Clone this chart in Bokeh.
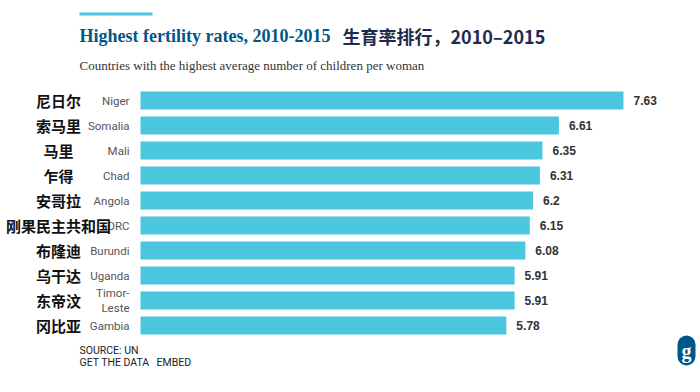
from bokeh.plotting import figure
from bokeh.models import Range1d, Label, BoxAnnotation, ColumnDataSource
from bokeh.core.properties import value
from bokeh.embed import file_html
from bokeh.resources import INLINE

# ---- data ----
countries_en = ["Niger", "Somalia", "Mali", "Chad", "Angola", "DRC", "Burundi", "Uganda", "Timor-\nLeste", "Gambia"]
countries_zh = ["尼日尔", "索马里", "马里", "乍得", "安哥拉", "刚果民主共和国", "布隆迪", "乌干达", "东帝汶", "冈比亚"]
fertility = [7.63, 6.61, 6.35, 6.31, 6.2, 6.15, 6.08, 5.91, 5.91, 5.78]
value_labels = ["7.63", "6.61", "6.35", "6.31", "6.2", "6.15", "6.08", "5.91", "5.91", "5.78"]

W, H = 700, 392
X0_PAGE = 140.0      # pixel x of value 0
PPU = 63.3           # pixels per unit
ROW0_PAGE = 100.0    # pixel y of first row centre
PITCH = 25.0

def X(px):
    return (px - X0_PAGE) / PPU

def Y(py):
    return (py - ROW0_PAGE) / PITCH

p = figure(width=W, height=H, output_backend="svg", toolbar_location=None,
           min_border=0, outline_line_color=None,
           x_range=Range1d(X(0), X(W)), y_range=Range1d(Y(H), Y(0)))
p.axis.visible = False
p.grid.visible = False
p.background_fill_color = "white"
p.border_fill_color = "white"

rows = list(range(len(fertility)))
src = ColumnDataSource(dict(y=rows, v=fertility, en=countries_en, zh=countries_zh, lab=value_labels))

p.hbar(y="y", left=0, right="v", height=0.72, source=src, fill_color="#4bc6df", line_color=None)

# value labels
p.text(x="v", y="y", text="lab", source=src, x_offset=10,
       text_font=value("Liberation Sans"), text_font_style="bold", text_font_size="12px",
       text_color="#333333", text_align="left", text_baseline="middle")

# english labels
p.text(x=X(129), y="y", text="en", source=src,
       text_font=value("Roboto"), text_font_size="11.5px",
       text_color="#555555", text_align="right", text_baseline="middle", text_line_height=1.05)

# chinese labels
p.text(x=X(58), y="y", text="zh", source=src,
       text_font=value("Noto Sans CJK SC"), text_font_style="bold", text_font_size="15px",
       text_color="#111111", text_align="center", text_baseline="middle")

# accent line
p.add_layout(BoxAnnotation(left=X(79), right=X(152), top=Y(12), bottom=Y(15),
                           fill_color="#4bc6df", fill_alpha=1, line_color=None))

p.add_layout(Label(x=X(79), y=Y(35), text="Highest fertility rates, 2010-2015",
                   text_font="Liberation Serif", text_font_style="bold", text_font_size="18px",
                   text_color="#005689", text_baseline="alphabetic"))
p.add_layout(Label(x=X(342), y=Y(35.5), text="生育率排行，2010–2015",
                   text_font="Noto Sans CJK SC", text_font_style="bold", text_font_size="18px",
                   text_color="#1d2b4f", text_baseline="alphabetic"))
p.add_layout(Label(x=X(79), y=Y(65), text="Countries with the highest average number of children per woman",
                   text_font="Liberation Serif", text_font_size="13px",
                   text_color="#333333", text_baseline="alphabetic"))
p.add_layout(Label(x=X(79), y=Y(350), text="SOURCE: UN",
                   text_font="Roboto", text_font_size="10.5px",
                   text_color="#222222", text_baseline="alphabetic"))
p.add_layout(Label(x=X(79), y=Y(362), text="GET THE DATA",
                   text_font="Roboto", text_font_size="10.5px",
                   text_color="#222222", text_baseline="alphabetic"))
p.add_layout(Label(x=X(156), y=Y(362), text="EMBED",
                   text_font="Roboto", text_font_size="10.5px",
                   text_color="#222222", text_baseline="alphabetic"))
p.add_layout(Label(x=X(686), y=Y(350), text="g",
                   text_font="Liberation Serif", text_font_style="bold", text_font_size="20px",
                   text_color="white", text_align="center", text_baseline="middle",
                   background_fill_color="#005689", border_radius=14, padding=4))

open("out.html", "w").write(file_html(p, INLINE))
